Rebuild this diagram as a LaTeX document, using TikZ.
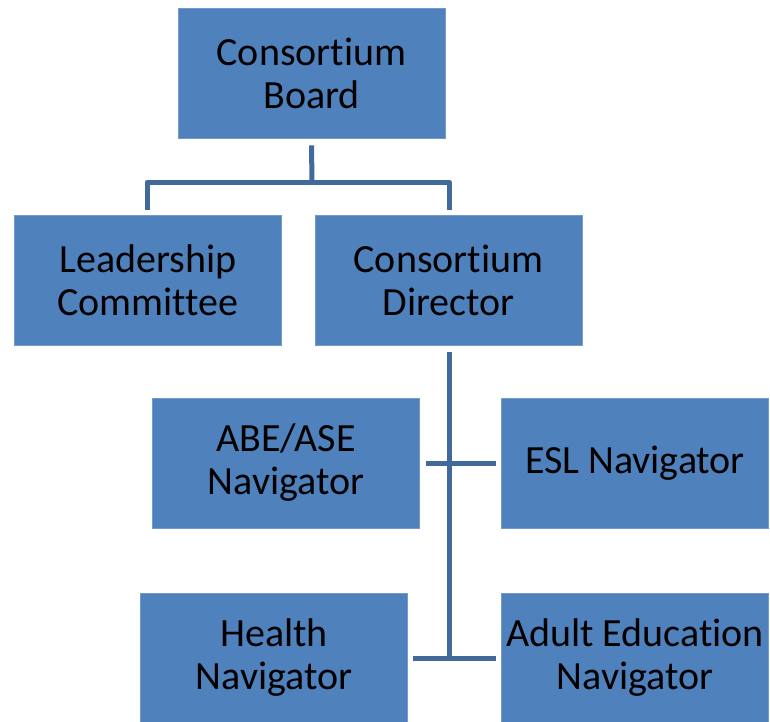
\documentclass[tikz,border=0pt]{standalone}
\usepackage{fontspec}
\setmainfont[RawFeature={-liga;-clig;-dlig;-calt}]{Carlito}
\definecolor{boxblue}{HTML}{4F81BD}
\definecolor{lineblue}{HTML}{41699C}
\begin{document}
\begin{tikzpicture}[x=1pt,y=-1pt,
  box/.style={rectangle, fill=boxblue, draw=boxblue!80!white, line width=0.8pt, minimum width=267pt, minimum height=130pt, align=center, font=\fontsize{40}{43}\selectfont, text=black, inner sep=0pt},
  conn/.style={draw=lineblue, line width=5pt}]
\useasboundingbox (0,0) rectangle (770,721);
\node[box] (board) at (311.5,73) {Consortium\\Board};
\node[box] (lead) at (148,280.5) {Leadership\\Committee};
\node[box] (dir) at (448.5,280.5) {Consortium\\Director};
\node[box] (abe) at (286,463) {ABE/ASE\\Navigator};
\node[box] (esl) at (635,463) {ESL Navigator};
\node[box] (health) at (274,658) {Health\\Navigator};
\node[box] (adult) at (635,658) {Adult Education\\Navigator};
% Board connectors
\coordinate (bt) at ([yshift=-7pt]board.south);
\coordinate (bj) at (312,182);
\coordinate (ljl) at (147,182);
\coordinate (ljr) at (449,182);
\draw[conn] (bt) -- (bj);
\draw[conn, line join=round] (147,210) -- (ljl) -- (ljr) -- (449,210);
% Director connectors
\coordinate (dt) at (449,352);
\coordinate (db) at (449,660);
\draw[conn] (dt) -- (db);
\draw[conn] (426,463) -- (496,463);
\draw[conn] (413,658) -- (496,658);
\end{tikzpicture}
\end{document}
